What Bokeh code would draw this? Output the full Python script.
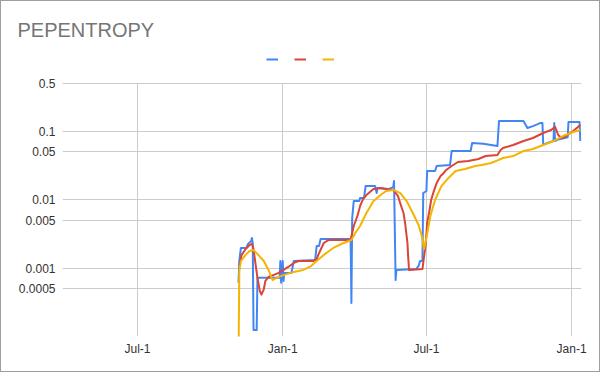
from datetime import datetime
import pandas as pd
from bokeh.plotting import figure
from bokeh.models import (Range1d, FixedTicker, CustomJSTickFormatter,
                          Legend, LegendItem)
from bokeh.core.properties import value
from bokeh.embed import file_html
from bokeh.resources import INLINE

title_text = "PEPENTROPY"

blue_dates = ["2023-11-06", "2023-11-07", "2023-11-09", "2023-11-16", "2023-11-18", "2023-11-22",
              "2023-11-23", "2023-11-24", "2023-11-25", "2023-11-29", "2023-11-30", "2023-12-28",
              "2023-12-29", "2023-12-30", "2024-01-01", "2024-01-02", "2024-01-03", "2024-01-12",
              "2024-01-15", "2024-02-11", "2024-02-13", "2024-02-16", "2024-02-18", "2024-03-27",
              "2024-03-28", "2024-03-29", "2024-03-31", "2024-04-07", "2024-04-08", "2024-04-13",
              "2024-04-15", "2024-04-27", "2024-04-29", "2024-04-30", "2024-05-14", "2024-05-20",
              "2024-05-21", "2024-05-23", "2024-05-24", "2024-06-18", "2024-06-21", "2024-06-23",
              "2024-06-26", "2024-06-27", "2024-07-01", "2024-07-02", "2024-07-12", "2024-07-14",
              "2024-07-31", "2024-08-02", "2024-08-26", "2024-08-28", "2024-09-11", "2024-09-29",
              "2024-10-01", "2024-11-01", "2024-11-06", "2024-11-13", "2024-11-22", "2024-11-25",
              "2024-11-26", "2024-12-09", "2024-12-10", "2024-12-11", "2024-12-15", "2024-12-27",
              "2024-12-28", "2025-01-11", "2025-01-12"]
blue_values = [0.00061, 0.00127, 0.00197, 0.00197, 0.00226, 0.00249,
               0.00275, 0.00233, 0.000124, 0.000124, 0.00072, 0.00072,
               0.00127, 0.00061, 0.00127, 0.00065, 0.00085, 0.00085,
               0.00127, 0.00131, 0.00210, 0.00210, 0.00266, 0.00266,
               0.00031, 0.00541, 0.00957, 0.00957, 0.0106, 0.0106,
               0.0158, 0.0158, 0.0125, 0.0148, 0.0143, 0.0153,
               0.0188, 0.00067, 0.00094, 0.00097, 0.00107, 0.00127,
               0.00127, 0.0125, 0.0134, 0.0263, 0.0263, 0.0311,
               0.0322, 0.0515, 0.0515, 0.0675, 0.066, 0.061,
               0.142, 0.142, 0.112, 0.119, 0.132, 0.132,
               0.064, 0.0721, 0.132, 0.0721, 0.076, 0.082,
               0.137, 0.137, 0.0721]

red_dates = ["2023-11-07", "2023-11-10", "2023-11-15", "2023-11-20", "2023-11-23", "2023-11-25",
             "2023-11-27", "2023-11-30", "2023-12-03", "2023-12-05", "2023-12-08", "2023-12-10",
             "2023-12-14", "2023-12-20", "2023-12-27", "2024-01-02", "2024-01-08", "2024-01-15",
             "2024-01-21", "2024-02-09", "2024-02-13", "2024-02-15", "2024-02-19", "2024-02-22",
             "2024-02-28", "2024-03-27", "2024-03-31", "2024-04-05", "2024-04-08", "2024-04-12",
             "2024-04-16", "2024-04-25", "2024-05-04", "2024-05-11", "2024-05-20", "2024-05-26",
             "2024-05-30", "2024-06-02", "2024-06-04", "2024-06-07", "2024-06-08", "2024-06-09",
             "2024-06-26", "2024-06-27", "2024-06-30", "2024-07-02", "2024-07-05", "2024-07-07",
             "2024-07-10", "2024-07-14", "2024-07-19", "2024-07-23", "2024-07-26", "2024-08-02",
             "2024-08-10", "2024-08-23", "2024-09-05", "2024-09-14", "2024-09-29", "2024-10-03",
             "2024-10-06", "2024-10-19", "2024-11-01", "2024-11-13", "2024-11-26", "2024-12-06",
             "2024-12-11", "2024-12-15", "2024-12-19", "2024-12-25", "2025-01-03", "2025-01-12"]
red_values = [0.0011, 0.00156, 0.0019, 0.00218, 0.00226, 0.0019,
              0.00127, 0.00072, 0.00046, 0.00041, 0.00049, 0.00065,
              0.00074, 0.00079, 0.00085, 0.00094, 0.00104, 0.00119,
              0.00127, 0.00127, 0.00135, 0.00156, 0.00197, 0.00233,
              0.00258, 0.00258, 0.00413, 0.00597, 0.00809, 0.0103,
              0.0117, 0.0143, 0.0148, 0.0143, 0.0139, 0.0113,
              0.00809, 0.0064, 0.00457, 0.00233, 0.00141, 0.00094,
              0.00097, 0.00119, 0.00218, 0.00457, 0.00706, 0.0099,
              0.0129, 0.0175, 0.0222, 0.0246, 0.0272, 0.0311,
              0.0356, 0.0368, 0.0394, 0.0435, 0.0451, 0.0533,
              0.057, 0.0631, 0.0721, 0.0798, 0.0944, 0.1045,
              0.116, 0.0883, 0.0798, 0.0853, 0.101, 0.124]

yellow_dates = ["2023-11-06", "2023-11-07", "2023-11-09", "2023-11-15", "2023-11-20", "2023-11-25",
                "2023-12-01", "2023-12-08", "2023-12-14", "2023-12-19", "2023-12-24", "2024-01-02",
                "2024-01-15", "2024-01-27", "2024-02-06", "2024-02-13", "2024-02-22", "2024-03-05",
                "2024-03-18", "2024-03-28", "2024-04-02", "2024-04-08", "2024-04-16", "2024-04-25",
                "2024-05-04", "2024-05-11", "2024-05-20", "2024-05-29", "2024-06-06", "2024-06-15",
                "2024-06-21", "2024-06-25", "2024-06-28", "2024-07-01", "2024-07-04", "2024-07-06",
                "2024-07-12", "2024-07-20", "2024-07-29", "2024-08-07", "2024-08-19", "2024-09-01",
                "2024-09-09", "2024-09-21", "2024-09-30", "2024-10-06", "2024-10-19", "2024-11-01",
                "2024-11-13", "2024-11-26", "2024-12-09", "2024-12-21", "2025-01-03", "2025-01-12"]
yellow_values = [0.00005, 0.00091, 0.00127, 0.00156, 0.00178, 0.00184,
                 0.00156, 0.00127, 0.00094, 0.00067, 0.00072, 0.00079,
                 0.00088, 0.00094, 0.00107, 0.00127, 0.00156, 0.00197,
                 0.00233, 0.00258, 0.00326, 0.00413, 0.0064, 0.00957,
                 0.0117, 0.0134, 0.0139, 0.0125, 0.00957, 0.00597,
                 0.00427, 0.003, 0.0019, 0.00275, 0.00427, 0.00578,
                 0.0099, 0.0158, 0.0208, 0.0263, 0.0281, 0.0311,
                 0.0322, 0.0344, 0.038, 0.0407, 0.0435, 0.0515,
                 0.0551, 0.0631, 0.0721, 0.0853, 0.0977, 0.1045]

y_ticks = [0.0005, 0.001, 0.005, 0.01, 0.05, 0.1, 0.5]
y_tick_labels = ["0.0005", "0.001", "0.005", "0.01", "0.05", "0.1", "0.5"]
x_ticks = ["2023-07-01", "2024-01-01", "2024-07-01", "2025-01-01"]
x_tick_labels = ["Jul-1", "Jan-1", "Jul-1", "Jan-1"]
y_axis_min, y_axis_max = 0.0001, 0.5

series_colors = ["#4285F4", "#DB4437", "#F4B400"]

FONT = "Liberation Sans"

# the frame reaches a little above the 0.5 line so the legend can sit inside it
p = figure(width=600, height=372, x_axis_type="datetime", y_axis_type="log",
           output_backend="svg", toolbar_location=None,
           x_range=Range1d(datetime(2023, 3, 28), datetime(2025, 1, 13, 12)),
           y_range=Range1d(y_axis_min, 1.373),
           min_border_left=61, min_border_right=20, min_border_top=52, min_border_bottom=37)
p.styles = {"border": "1px solid #9e9e9e", "box-sizing": "border-box"}
p.outline_line_color = None
p.background_fill_color = "white"
p.border_fill_color = "white"

p.title.text = title_text
p.title.align = "left"
p.title.offset = -45
p.title.text_font = FONT
p.title.text_font_size = "20px"
p.title.text_font_style = "normal"
p.title.text_color = "#757575"
p.title.standoff = 26

renderers = []
for d, v, c in [(blue_dates, blue_values, series_colors[0]),
                (red_dates, red_values, series_colors[1]),
                (yellow_dates, yellow_values, series_colors[2])]:
    renderers.append(p.line(x=pd.to_datetime(d), y=v, line_color=c, line_width=2,
                            line_join="round"))

x_ms = [pd.Timestamp(t).value / 1e6 for t in x_ticks]
p.xaxis.ticker = FixedTicker(ticks=x_ms, minor_ticks=[])
p.xaxis.formatter = CustomJSTickFormatter(args=dict(vals=x_ms, labs=x_tick_labels), code="""
for (let i = 0; i < vals.length; i++) { if (Math.abs(tick - vals[i]) < 1000) return labs[i]; }
return '';""")
p.yaxis.ticker = FixedTicker(ticks=y_ticks, minor_ticks=[])
p.yaxis.formatter = CustomJSTickFormatter(args=dict(vals=y_ticks, labs=y_tick_labels), code="""
for (let i = 0; i < vals.length; i++) { if (Math.abs(Math.log10(tick) - Math.log10(vals[i])) < 1e-6) return labs[i]; }
return '';""")

for ax in (p.xaxis[0], p.yaxis[0]):
    ax.axis_line_color = None
    ax.major_tick_line_color = None
    ax.minor_tick_line_color = None
    ax.major_tick_out = 0
    ax.major_tick_in = 0
    ax.major_label_text_font = FONT
    ax.major_label_text_font_size = "12px"
    ax.major_label_text_color = "#333333"
p.xaxis.major_label_standoff = 5
p.yaxis.major_label_standoff = 7

p.ygrid.grid_line_color = "#cccccc"
xg = p.xgrid[0]
if "cross_bounds" in xg.properties():
    xg.grid_line_color = "#cccccc"
    xg.cross_bounds = (y_axis_min, y_axis_max)
else:
    xg.grid_line_color = None
    p.segment(x0=pd.to_datetime(x_ticks), x1=pd.to_datetime(x_ticks),
              y0=[y_axis_min] * len(x_ticks), y1=[y_axis_max] * len(x_ticks),
              line_color="#cccccc", line_width=1, level="underlay")

legend = Legend(items=[LegendItem(label=value(" "), renderers=[r]) for r in renderers],
                orientation="horizontal", location=(204, 275),
                glyph_width=12, glyph_height=4, label_width=1,
                label_standoff=0, spacing=15, padding=0, margin=6,
                label_text_font_size="2px", border_line_alpha=0,
                background_fill_alpha=0)
p.add_layout(legend)

open("out.html", "w").write(file_html(p, INLINE))
